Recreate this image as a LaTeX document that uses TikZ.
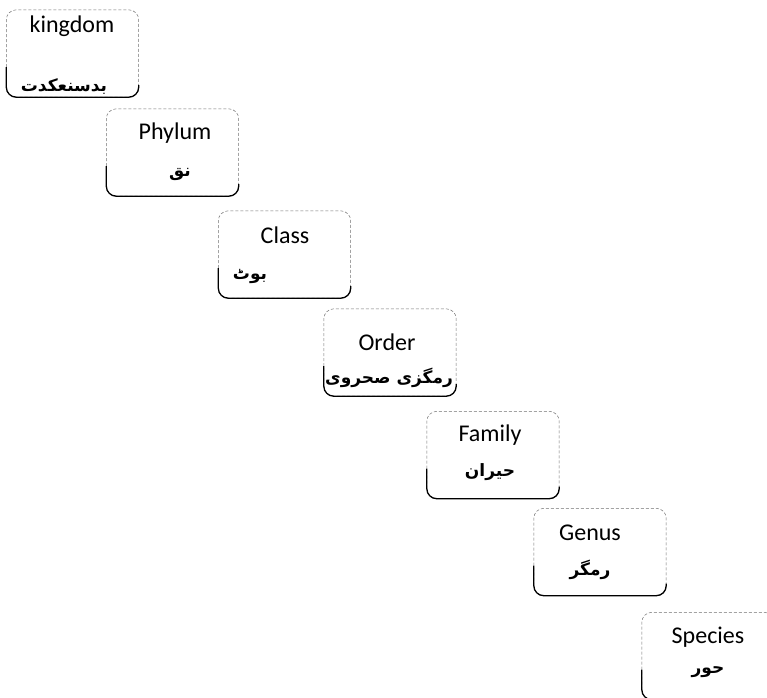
\documentclass[tikz,border=0pt]{standalone}
\usepackage{fontspec}
\setmainfont{Carlito}
\newfontfamily\arabicfont[Script=Arabic]{DejaVu Sans}
\TeXXeTstate=1
\begin{document}
\begin{tikzpicture}[x=1pt,y=-1pt,
  box/.style={minimum width=132pt,minimum height=87pt,inner sep=0pt,draw=none},
  lat/.style={font=\fontsize{24}{27}\selectfont,inner sep=0pt,anchor=center},
  ara/.style={font=\arabicfont\bfseries\fontsize{17}{20}\selectfont,inner sep=0pt,anchor=center},
  outerline/.style={draw=black!55,line width=0.5pt,dashed,dash pattern=on 3pt off 2pt,rounded corners=10pt},
  innerline/.style={draw=black,line width=1.3pt,rounded corners=10pt}]
\useasboundingbox[fill=white] (0,0) rectangle (767,697);
% boxes
\node[box] (b1) at (72.5,53.5) {};
\node[box] (b2) at (172.5,152.5) {};
\node[box] (b3) at (284.5,254.5) {};
\node[box] (b4) at (390,352.5) {};
\node[box] (b5) at (493,455) {};
\node[box] (b6) at (600,552) {};
\node[box] (b7) at (708,656) {};
\foreach \b in {b1,b2,b3,b4,b5,b6,b7}{
  \draw[outerline] (\b.south west) rectangle (\b.north east);
  \draw[innerline] ([yshift=30pt]\b.south west) -- (\b.south west) -- (\b.south east) -- ([yshift=12pt]\b.south east);
}
% labels
\node[lat] (t1) at (72,26) {kingdom};
\node[ara] (a1) at (64,87) {\beginR بدسنعكدت\endR};
\node[lat] (t2) at (175,133) {Phylum};
\node[ara] (a2) at (180,174) {\beginR نق\endR};
\node[lat] (t3) at (285,235) {Class};
\node[ara] (a3) at (250,276) {\beginR بوٹ\endR};
\node[lat] (t4) at (387,342) {Order};
\node[ara] (a4) at (389,378) {\beginR رمگزی صحروی\endR};
\node[lat] (t5) at (490,435) {Family};
\node[ara] (a5) at (490,472) {\beginR حیران\endR};
\node[lat] (t6) at (590,533) {Genus};
\node[ara] (a6) at (590,570) {\beginR رمگر\endR};
\node[lat] (t7) at (708,637) {Species};
\node[ara] (a7) at (708,672) {\beginR حور\endR};
\end{tikzpicture}
\end{document}
